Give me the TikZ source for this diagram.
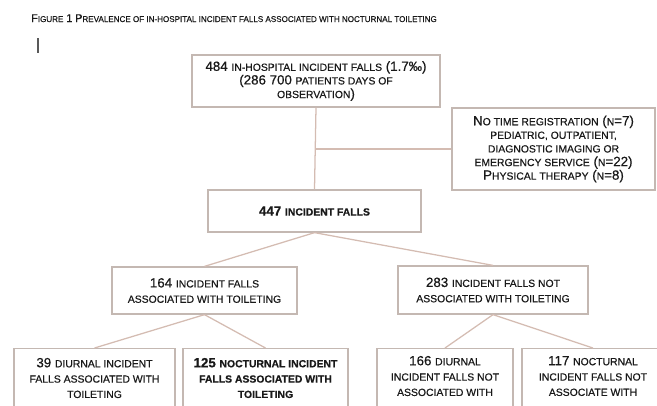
\documentclass[tikz,border=0pt]{standalone}
\usepackage{fontspec}
\setmainfont[FakeBold=0.5]{Liberation Sans}
\newfontfamily\titlefont[FakeStretch=0.96,FakeBold=0.4]{Liberation Sans}
\definecolor{boxc}{RGB}{196,184,178}
\definecolor{linec}{RGB}{212,188,178}
\definecolor{txt}{RGB}{25,25,25}
\newcommand\smc[1]{{\fontsize{7.8}{9.4}\selectfont #1}}
\newcommand\tsm[1]{{\fontsize{6.3}{7.5}\selectfont #1}}
\begin{document}
\begin{tikzpicture}[x=0.75pt,y=-0.75pt,
  wh/.style 2 args={minimum width=#1*0.75pt, minimum height=#2*0.75pt},
  bx/.style={draw=boxc, line width=0.95pt, fill=white, text=txt, align=center, inner sep=0pt},
  tight/.style={font=\fontsize{10}{10.2}\selectfont},
  loose/.style={font=\fontsize{10}{11.5}\selectfont},
  conn/.style={draw=linec, line width=0.95pt}]
\useasboundingbox (0,0) rectangle (657,405);
\clip (0,0) rectangle (657,405);

\node[anchor=base west, text=txt, inner sep=0pt, font=\titlefont\fontsize{8.4}{9}\selectfont] (title) at (31,22)
  {F\tsm{IGURE} 1 P\tsm{REVALENCE OF IN-HOSPITAL INCIDENT FALLS ASSOCIATED WITH NOCTURNAL TOILETING}};
\draw[line width=1.1pt, color=black!65] (38,38) -- (38,53);

\node[bx, tight, wh={248}{52}] (top) at (316,81)
  {484 \smc{IN-HOSPITAL INCIDENT FALLS} (1.7‰)\\ (286 700 \smc{PATIENTS DAYS OF}\\ \smc{OBSERVATION})};
\node[bx, tight, wh={203}{82}] (side) at (553.5,149)
  {N\smc{O TIME REGISTRATION} (\smc{N}=7)\\ \smc{PEDIATRIC, OUTPATIENT,}\\ \smc{DIAGNOSTIC IMAGING OR}\\ \smc{EMERGENCY SERVICE} (\smc{N}=22)\\ P\smc{HYSICAL THERAPY} (\smc{N}=8)};
\node[bx, tight, wh={213}{42}, font=\bfseries\fontsize{10}{10.2}\selectfont] (all) at (314.5,211)
  {447 \smc{INCIDENT FALLS}};
\node[bx, loose, wh={185}{47}] (toi) at (204.5,290.5)
  {164 \smc{INCIDENT FALLS}\\ \smc{ASSOCIATED WITH TOILETING}};
\node[bx, loose, wh={190}{48}] (ntoi) at (493,290)
  {283 \smc{INCIDENT FALLS NOT}\\ \smc{ASSOCIATED WITH TOILETING}};

\node[bx, loose, wh={161}{74}, anchor=north] (diu) at (94.5,348)
  {39 \smc{DIURNAL INCIDENT}\\ \smc{FALLS ASSOCIATED WITH}\\ \smc{TOILETING}\\ \phantom{X}};
\node[bx, loose, wh={165}{74}, anchor=north, font=\bfseries\fontsize{10}{11.5}\selectfont] (noc) at (265.5,348)
  {125 \smc{NOCTURNAL INCIDENT}\\ \smc{FALLS ASSOCIATED WITH}\\ \smc{TOILETING}\\ \phantom{X}};
\node[bx, loose, wh={136}{70}, anchor=north] (ndiu) at (445,348)
  {166 \smc{DIURNAL}\\ \smc{INCIDENT FALLS NOT}\\ \smc{ASSOCIATED WITH}\\ \phantom{X}};
\node[bx, loose, wh={142}{70}, anchor=north] (nnoc) at (593,348)
  {117 \smc{NOCTURNAL}\\ \smc{INCIDENT FALLS NOT}\\ \smc{ASSOCIATE WITH}\\ \phantom{X}};

\draw[conn] (top.south) -- (all.north);
\draw[conn] (top.south |- side.west) -- (side.west);
\draw[conn] (all.south) -- (toi.north);
\draw[conn] (all.south) -- (ntoi.north);
\draw[conn] (toi.south) -- (diu.north);
\draw[conn] (toi.south) -- (noc.north);
\draw[conn] (ntoi.south) -- (ndiu.north);
\draw[conn] (ntoi.south) -- (nnoc.north);
\end{tikzpicture}
\end{document}
